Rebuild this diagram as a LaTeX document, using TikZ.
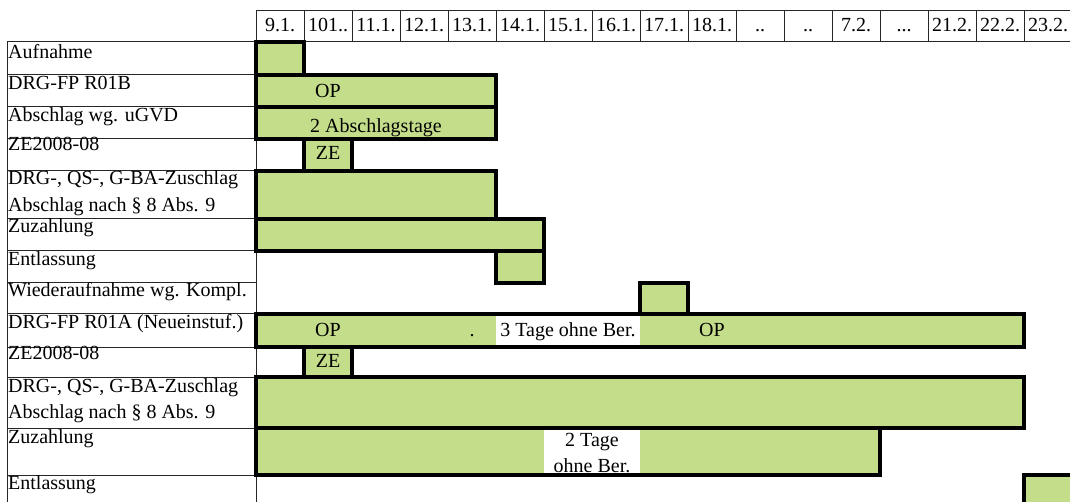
\documentclass[tikz,border=0pt]{standalone}
\usepackage{fontspec}
\setmainfont{Liberation Serif}
\definecolor{bargreen}{RGB}{196,221,138}
\newcommand{\diagfont}{\fontsize{20}{26}\selectfont}
\begin{document}
\begin{tikzpicture}[x=1pt,y=-1pt,
  thinline/.style={line width=1pt,draw=black!85},
  barfill/.style={fill=bargreen},
  blank/.style={fill=white},
  barborder/.style={line width=4.2pt,draw=black},
  lab/.style={anchor=base west,inner sep=0pt,font=\diagfont},
  txt/.style={anchor=base,inner sep=0pt,font=\diagfont}]
\useasboundingbox (0,0) rectangle (1070,502);
\clip (0,0) rectangle (1070,502);
% ---------- header ----------
\foreach \i in {0,...,16} \draw[thinline] ({256+48*\i},11) rectangle +(48,31);
\node[txt] (h0) at (280,32) {9.1.};
\node[txt] (h1) at (328,32) {101..};
\node[txt] (h2) at (376,32) {11.1.};
\node[txt] (h3) at (424,32) {12.1.};
\node[txt] (h4) at (472,32) {13.1.};
\node[txt] (h5) at (520,32) {14.1.};
\node[txt] (h6) at (568,32) {15.1.};
\node[txt] (h7) at (616,32) {16.1.};
\node[txt] (h8) at (664,32) {17.1.};
\node[txt] (h9) at (712,32) {18.1.};
\node[txt] (h10) at (760,32) {..};
\node[txt] (h11) at (808,32) {..};
\node[txt] (h12) at (856,32) {7.2.};
\node[txt] (h13) at (904,32) {...};
\node[txt] (h14) at (952,32) {21.2.};
\node[txt] (h15) at (1000,32) {22.2.};
\node[txt] (h16) at (1048,32) {23.2.};
% ---------- label column ----------
\foreach \a/\b in {42/75,75/107,107/139,139/171,171/219,219/251,251/283,283/314,314/347,347/377,377/428,428/475,475/520}
  \draw[thinline] (7,\a) rectangle (256,\b);
\node[lab] (l1) at (8,59) {Aufnahme};
\node[lab] (l2) at (8,90) {DRG-FP R01B};
\node[lab] (l3) at (8,122) {Abschlag wg. uGVD};
\node[lab] (l4) at (8,151) {ZE2008-08};
\node[lab] (l5a) at (8,185) {DRG-, QS-, G-BA-Zuschlag};
\node[lab] (l5b) at (8,212) {Abschlag nach § 8 Abs. 9};
\node[lab] (l6) at (8,233) {Zuzahlung};
\node[lab] (l7) at (8,266) {Entlassung};
\node[lab] (l8) at (8,297) {Wiederaufnahme wg. Kompl.};
\node[lab] (l9) at (8,329) {DRG-FP R01A (Neueinstuf.)};
\node[lab] (l10) at (8,359) {ZE2008-08};
\node[lab] (l11a) at (8,392) {DRG-, QS-, G-BA-Zuschlag};
\node[lab] (l11b) at (8,418) {Abschlag nach § 8 Abs. 9};
\node[lab] (l12) at (8,443) {Zuzahlung};
\node[lab] (l13) at (8,489) {Entlassung};
% ---------- bar fills ----------
\fill[barfill] (256,42) rectangle (304,75);
\fill[barfill] (256,75) rectangle (496,107);
\fill[barfill] (256,107) rectangle (496,139);
\fill[barfill] (304,139) rectangle (352,171);
\fill[barfill] (256,171) rectangle (496,219);
\fill[barfill] (256,219) rectangle (544,251);
\fill[barfill] (496,251) rectangle (544,283);
\fill[barfill] (640,283) rectangle (688,314);
\fill[barfill] (256,314) rectangle (1024,347);
\fill[blank] (496,314) rectangle (640,347);
\fill[barfill] (304,347) rectangle (352,377);
\fill[barfill] (256,377) rectangle (1024,428);
\fill[barfill] (256,428) rectangle (880,475);
\fill[blank] (544,428) rectangle (640,475);
\fill[barfill] (1024,475) rectangle (1072,510);
% ---------- bar texts ----------
\node[txt] (b2) at (328,98) {OP};
\node[txt] (b3) at (376,133) {2 Abschlagstage};
\node[txt] (b4) at (328,160) {ZE};
\node[txt] (b9a) at (328,336) {OP};
\node[txt] (b9b) at (472,336) {.};
\node[txt] (b9c) at (568,336) {3 Tage ohne Ber.};
\node[txt] (b9d) at (712,336) {OP};
\node[txt] (b10) at (328,367) {ZE};
\node[txt] (b12a) at (592,446) {2 Tage};
\node[txt] (b12b) at (592,472) {ohne Ber.};
% ---------- bar borders ----------
\draw[barborder] (256,42) rectangle (304,75);
\draw[barborder] (256,75) rectangle (496,107);
\draw[barborder] (256,107) rectangle (496,139);
\draw[barborder] (304,139) rectangle (352,171);
\draw[barborder] (256,171) rectangle (496,219);
\draw[barborder] (256,219) rectangle (544,251);
\draw[barborder] (496,251) rectangle (544,283);
\draw[barborder] (640,283) rectangle (688,314);
\draw[barborder] (256,314) rectangle (1024,347);
\draw[barborder] (304,347) rectangle (352,377);
\draw[barborder] (256,377) rectangle (1024,428);
\draw[barborder] (256,428) rectangle (880,475);
\draw[barborder] (1024,475) rectangle (1072,510);
\end{tikzpicture}
\end{document}
